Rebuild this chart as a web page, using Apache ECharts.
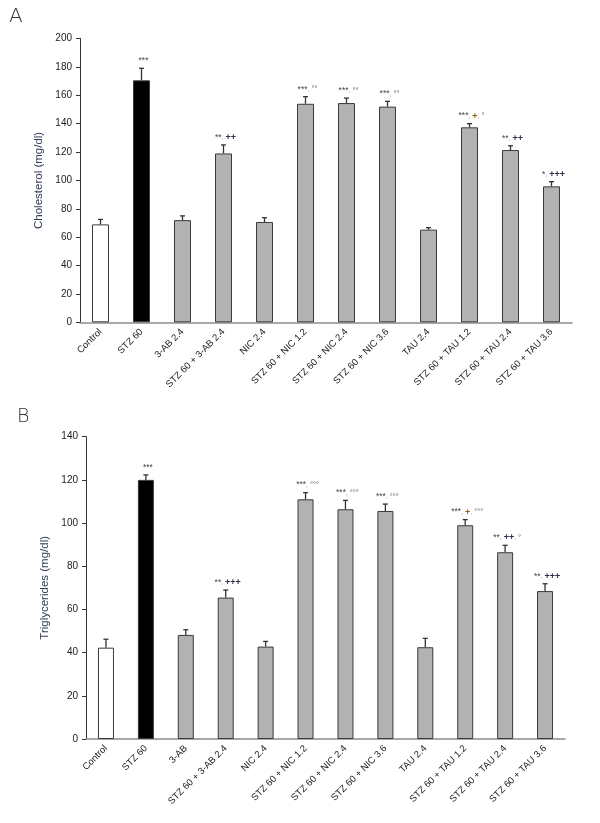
<!DOCTYPE html>
<html>
<head>
<meta charset="utf-8">
<script src="https://cdn.jsdelivr.net/npm/echarts@6/dist/echarts.min.js"></script>
<style>
html,body{margin:0;padding:0;background:#fff;}
#chart{width:600px;height:823px;}
</style>
</head>
<body>
<div id="chart"></div>
<script>
// ---- Data ----
const categoriesA = ["Control", "STZ 60", "3-AB 2.4", "STZ 60 + 3-AB 2.4", "NIC 2.4", "STZ 60 + NIC 1.2", "STZ 60 + NIC 2.4", "STZ 60 + NIC 3.6", "TAU 2.4", "STZ 60 + TAU 1.2", "STZ 60 + TAU 2.4", "STZ 60 + TAU 3.6"];
const categoriesB = ["Control", "STZ 60", "3-AB", "STZ 60 + 3-AB 2.4", "NIC 2.4", "STZ 60 + NIC 1.2", "STZ 60 + NIC 2.4", "STZ 60 + NIC 3.6", "TAU 2.4", "STZ 60 + TAU 1.2", "STZ 60 + TAU 2.4", "STZ 60 + TAU 3.6"];

const cholesterol = [69, 170.5, 72, 119, 70.7, 154, 154.5, 152, 65.3, 137.4, 121.4, 95.8];
const cholesterolErr = [3.5, 8.5, 3, 6, 3, 5, 3.5, 3.7, 1.4, 2.6, 3, 3.3];
const cholesterolSig = ["", "***", "", "**, ++", "", "***, °°", "***, °°", "***, °°", "", "***, +, °", "**, ++", "*, +++"];

const triglycerides = [42.3, 120, 48.2, 65.5, 42.8, 111, 106.4, 105.6, 42.5, 99, 86.5, 68.5];
const triglyceridesErr = [3.9, 2.3, 2.4, 3.5, 2.4, 3.1, 4.1, 3.2, 4.1, 2.6, 3.2, 3.4];
const triglyceridesSig = ["", "***", "", "**, +++", "", "***, °°°", "***, °°°", "***, °°°", "", "***, +, °°°", "**, ++, °", "**, +++"];

const cholesterolTicks = { min: 0, max: 200, interval: 20 };
const triglyceridesTicks = { min: 0, max: 140, interval: 20 };

const barFill = ["#ffffff", "#000000", "#b2b2b2", "#b2b2b2", "#b2b2b2", "#b2b2b2", "#b2b2b2", "#b2b2b2", "#b2b2b2", "#b2b2b2", "#b2b2b2", "#b2b2b2"];

// ---- helpers ----
function sigRich(s) {
  const parts = s.split(", ");
  let out = "";
  parts.forEach((p, i) => {
    if (i > 0) out += "{c|,} ";
    if (p.indexOf("*") >= 0) out += "{s|" + p + "}";
    else if (p === "+") out += "{p1|" + p + "}";
    else if (p.indexOf("+") >= 0) out += "{p|" + p + "}";
    else out += "{d|" + p + "}";
  });
  return out;
}

const rich = {
  s: { fontSize: 8.5, fill: "#444", fontFamily: "Liberation Sans" },
  c: { fontSize: 6, fill: "#666", fontFamily: "Liberation Sans" },
  p: { fontSize: 9, fill: "#2b2f4a", fontFamily: "Liberation Sans", fontWeight: "bold" },
  p1: { fontSize: 9, fill: "#8a6410", fontFamily: "Liberation Sans", fontWeight: "bold" },
  d: { fontSize: 7.5, fill: "#555", fontFamily: "Liberation Sans" }
};

function errSeries(xi, yi, vals, errs, sigs) {
  return {
    type: "custom",
    xAxisIndex: xi, yAxisIndex: yi,
    z: 5,
    data: vals.map((v, i) => [i, v, v + errs[i]]),
    renderItem: function (params, api) {
      const i = api.value(0);
      const top = api.coord([i, api.value(1)]);
      const cap = api.coord([i, api.value(2)]);
      const children = [
        { type: "line", shape: { x1: top[0], y1: top[1], x2: cap[0], y2: cap[1] }, style: { stroke: "#333", lineWidth: 1.3 } },
        { type: "line", shape: { x1: cap[0] - 2.5, y1: cap[1], x2: cap[0] + 2.5, y2: cap[1] }, style: { stroke: "#333", lineWidth: 1.3 } }
      ];
      const s = sigs[i];
      if (s) {
        children.push({
          type: "text",
          x: cap[0] + 2, y: cap[1] - 3,
          style: { text: sigRich(s), rich: rich, align: "center", verticalAlign: "bottom", fontSize: 8, fontFamily: "Liberation Sans" }
        });
      }
      return { type: "group", children: children };
    }
  };
}

function barSeries(xi, yi, vals, w) {
  return {
    type: "bar",
    xAxisIndex: xi, yAxisIndex: yi,
    barWidth: w,
    data: vals.map((v, i) => ({ value: v, itemStyle: { color: barFill[i] } })),
    itemStyle: { borderColor: "#3a3a3a", borderWidth: 1 },
    silent: true
  };
}

const axisLabelStyle = { color: "#222", fontSize: 10, fontFamily: "Liberation Sans" };
const catLabelStyle = { color: "#222", fontSize: 9.5, fontFamily: "Liberation Sans", rotate: 45, margin: 8, interval: 0 };

function xAx(gi, cats) {
  return {
    type: "category", gridIndex: gi, data: cats,
    axisLine: { lineStyle: { color: "#8c8c8c", width: 1.5 } },
    axisTick: { show: false },
    axisLabel: catLabelStyle
  };
}
function yAx(gi, name, t, gap) {
  return {
    type: "value", gridIndex: gi, min: t.min, max: t.max, interval: t.interval,
    name: name, nameLocation: "middle", nameGap: gap,
    nameTextStyle: { color: "#34405a", fontSize: 11.5, fontFamily: "Liberation Sans" },
    axisLine: { show: true, lineStyle: { color: "#333", width: 1 } },
    axisTick: { show: true, length: 4, lineStyle: { color: "#333" } },
    splitLine: { show: false },
    axisLabel: axisLabelStyle
  };
}

const chart = echarts.init(document.getElementById("chart"), null, { renderer: "canvas" });
chart.setOption({
  animation: false,
  backgroundColor: "#fff",
  graphic: [
    { type: "text", left: 9, top: 7, style: { text: "A", fontSize: 20, fill: "#333", fontFamily: "DejaVu Sans", fontWeight: 200 } },
    { type: "text", left: 17, top: 408, style: { text: "B", fontSize: 19, fill: "#333", fontFamily: "DejaVu Sans", fontWeight: 200 } }
  ],
  grid: [
    { left: 80, right: 28, top: 38.5, height: 283.8 },
    { left: 86, right: 35, top: 436.7, height: 302.3 }
  ],
  xAxis: [xAx(0, categoriesA), xAx(1, categoriesB)],
  yAxis: [yAx(0, "Cholesterol (mg/dl)", cholesterolTicks, 29), yAx(1, "Triglycerides (mg/dl)", triglyceridesTicks, 29)],
  series: [
    barSeries(0, 0, cholesterol, 17),
    errSeries(0, 0, cholesterol, cholesterolErr, cholesterolSig),
    barSeries(1, 1, triglycerides, 16),
    errSeries(1, 1, triglycerides, triglyceridesErr, triglyceridesSig)
  ]
});
</script>
</body>
</html>
